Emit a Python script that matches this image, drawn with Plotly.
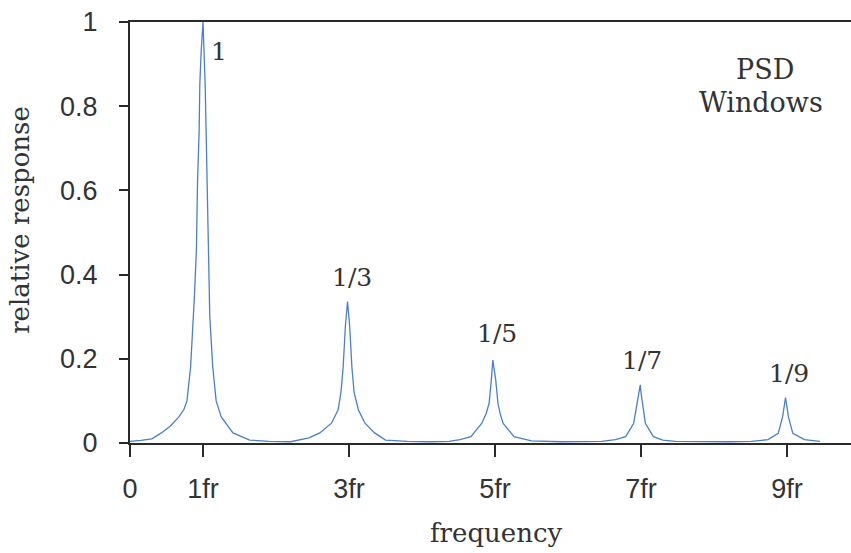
import plotly.graph_objects as go

# frequency in units of fr, relative response
freq = [0.0, 0.15, 0.30, 0.43, 0.55, 0.67, 0.74, 0.78, 0.83, 0.856, 0.88, 0.91, 0.925, 0.947, 0.956, 0.975, 0.99, 1.0,
        1.03, 1.056, 1.075, 1.093, 1.134, 1.18, 1.25, 1.41, 1.64, 1.9, 2.2,
        2.32, 2.45, 2.6, 2.76, 2.85, 2.89, 2.92, 2.95, 2.98, 3.01, 3.04, 3.07, 3.13, 3.22, 3.35, 3.5, 3.8, 4.1,
        4.37, 4.52, 4.67, 4.82, 4.88, 4.92, 4.95, 4.97, 5.01, 5.04, 5.07, 5.11, 5.26, 5.5, 5.9, 6.2,
        6.46, 6.65, 6.79, 6.9, 6.95, 6.975, 6.99, 7.0, 7.02, 7.06, 7.17, 7.3, 7.47, 7.8, 8.2,
        8.51, 8.74, 8.88, 8.94, 8.98, 9.02, 9.08, 9.24, 9.45]
response = [0.004, 0.006, 0.010, 0.024, 0.040, 0.062, 0.080, 0.10, 0.18, 0.26, 0.34, 0.46, 0.62, 0.74, 0.85, 0.93, 1.0, 1.0,
            0.85, 0.62, 0.46, 0.30, 0.18, 0.10, 0.062, 0.024, 0.007, 0.004, 0.003,
            0.007, 0.012, 0.024, 0.047, 0.078, 0.12, 0.18, 0.276, 0.336, 0.276, 0.18, 0.12, 0.078, 0.047, 0.024, 0.007, 0.004, 0.003,
            0.004, 0.008, 0.015, 0.047, 0.070, 0.095, 0.15, 0.197, 0.15, 0.095, 0.070, 0.047, 0.015, 0.005, 0.003, 0.003,
            0.004, 0.008, 0.015, 0.047, 0.094, 0.12, 0.138, 0.12, 0.094, 0.047, 0.015, 0.007, 0.004, 0.003, 0.003,
            0.004, 0.008, 0.023, 0.062, 0.108, 0.062, 0.023, 0.008, 0.004]

tick_vals = [0, 1, 3, 5, 7, 9]
tick_text = ["0", "1fr", "3fr", "5fr", "7fr", "9fr"]
y_ticks = [0, 0.2, 0.4, 0.6, 0.8, 1]
y_tick_text = ["0", "0.2", "0.4", "0.6", "0.8", "1"]

peak_labels = ["1", "1/3", "1/5", "1/7", "1/9"]
peak_label_x = [1.22, 3.04, 5.03, 7.01, 9.03]
peak_label_y = [0.931, 0.392, 0.261, 0.197, 0.164]

serif = "DejaVu Serif"
sans = "Liberation Sans"
txt = "#333333"

fig = go.Figure()
fig.add_trace(go.Scatter(x=freq, y=response, mode="lines",
                         line=dict(color="#4a7fd0", width=1.3), showlegend=False))

for t, x, y in zip(peak_labels, peak_label_x, peak_label_y):
    fig.add_annotation(x=x, y=y, text=t, showarrow=False, xanchor="center", yanchor="middle",
                       font=dict(family=serif, size=25, color=txt))

fig.add_annotation(x=8.70, y=0.888, text="PSD", showarrow=False, xanchor="center", yanchor="middle",
                   font=dict(family=serif, size=27, color=txt))
fig.add_annotation(x=8.64, y=0.808, text="Windows", showarrow=False, xanchor="center", yanchor="middle",
                   font=dict(family=serif, size=27, color=txt))

fig.add_annotation(xref="paper", yref="paper", x=0.509, y=-0.214, text="frequency", showarrow=False,
                   xanchor="center", yanchor="middle", font=dict(family=serif, size=26, color=txt))
fig.add_annotation(xref="paper", yref="paper", x=-0.1526, y=0.53, text="relative response", showarrow=False,
                   textangle=-90, xanchor="center", yanchor="middle", font=dict(family=serif, size=26, color=txt))

fig.update_layout(
    width=851, height=553,
    margin=dict(l=130, r=0, t=22, b=110),
    paper_bgcolor="white", plot_bgcolor="white",
    xaxis=dict(range=[0, 9.877], tickvals=tick_vals, ticktext=tick_text,
               showgrid=False, zeroline=False, showline=True, linecolor="#2a2a2a", linewidth=2,
               mirror=True, ticks="outside", ticklen=12, tickwidth=1.5, tickcolor="#2a2a2a",
               ticklabelstandoff=9, tickfont=dict(family=sans, size=27, color=txt)),
    yaxis=dict(range=[0, 1], tickvals=y_ticks, ticktext=y_tick_text,
               showgrid=False, zeroline=False, showline=True, linecolor="#2a2a2a", linewidth=2,
               ticks="outside", ticklen=9, tickwidth=1.5, tickcolor="#2a2a2a",
               ticklabelstandoff=16, tickfont=dict(family=sans, size=27, color=txt)),
)

fig.write_html("out.html")
